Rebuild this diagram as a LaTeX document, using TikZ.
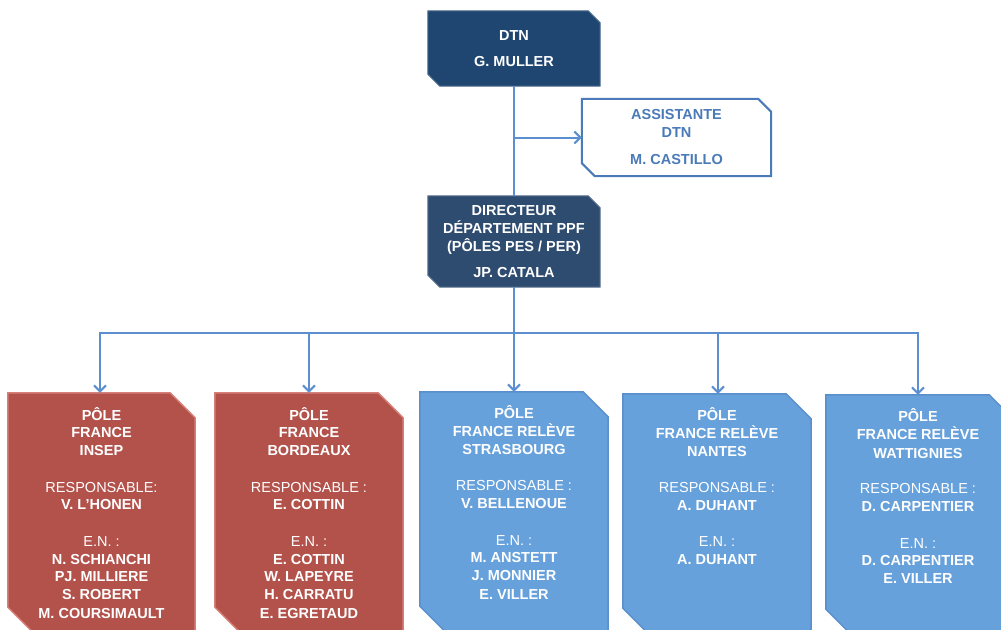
\documentclass[tikz,border=0pt]{standalone}
\usepackage{fontspec}
\setmainfont{Liberation Sans}
\usetikzlibrary{arrows.meta,backgrounds}
\definecolor{navy}{HTML}{1F4670}
\definecolor{slate}{HTML}{2E4C70}
\definecolor{connblue}{HTML}{5B8FD0}
\definecolor{asstblue}{HTML}{4A7AB8}
\definecolor{redfill}{HTML}{B3524B}
\definecolor{redline}{HTML}{D77E78}
\definecolor{bluefill}{HTML}{66A1DC}
\definecolor{blueline}{HTML}{5A8FCB}
\newcommand\snipbox[3]{%
  \path[#3] (#1.north west) -- ([xshift=-#2pt]#1.north east) -- ([yshift=-#2pt]#1.north east)
    -- (#1.south east) -- ([xshift=#2pt]#1.south west) -- ([yshift=#2pt]#1.south west) -- cycle;}
\tikzset{
  topbox/.style={rectangle, inner sep=0pt, align=center, text=white,
    font=\fontsize{14.5}{18}\selectfont\bfseries},
  pbox/.style={rectangle, inner sep=0pt, minimum height=239},
  ptext/.style={inner sep=0pt, align=center, text=white, anchor=north,
    font=\fontsize{14.5}{18}\selectfont\bfseries},
  conn/.style={draw=connblue, line width=2pt},
  arr/.style={-{Straight Barb[length=6pt,width=12pt,line width=2pt]}},
}
\begin{document}
\begin{tikzpicture}[x=1pt,y=-1pt]
\useasboundingbox (0,0) rectangle (1001,629);
% top boxes
\node[topbox, minimum width=172, minimum height=75] (dtn) at (514,48.5) {DTN\\[8pt]G. MULLER};
\node[topbox, text=asstblue, minimum width=189, minimum height=77] (asst) at (676.5,137.5) {ASSISTANTE\\DTN\\[9pt]M. CASTILLO};
\node[topbox, minimum width=172, minimum height=91] (dir) at (514,241.5) {DIRECTEUR\\DÉPARTEMENT PPF\\(PÔLES PES / PER)\\[8pt]JP. CATALA};
% bottom boxes
\node[pbox, minimum width=187] (p1) at (101.5,512.5) {};
\node[pbox, minimum width=188] (p2) at (309,512.5) {};
\node[pbox, minimum width=188] (p3) at (514,511.5) {};
\node[pbox, minimum width=188] (p4) at (717,513.5) {};
\node[pbox, minimum width=188] (p5) at (920,514.5) {};
\node[ptext] (t1) at ([yshift=-14pt]p1.north) {PÔLE\\FRANCE\\INSEP\\[18pt]{\mdseries RESPONSABLE:}\\V. L'HONEN\\[18pt]{\mdseries E.N. :}\\N. SCHIANCHI\\PJ. MILLIERE\\S. ROBERT\\M. COURSIMAULT};
\node[ptext] (t2) at ([yshift=-14pt]p2.north) {PÔLE\\FRANCE\\BORDEAUX\\[18pt]{\mdseries RESPONSABLE :}\\E. COTTIN\\[18pt]{\mdseries E.N. :}\\E. COTTIN\\W. LAPEYRE\\H. CARRATU\\E. EGRETAUD};
\node[ptext] (t3) at ([yshift=-14pt]p3.north) {PÔLE\\FRANCE RELÈVE\\STRASBOURG\\[18pt]{\mdseries RESPONSABLE :}\\V. BELLENOUE\\[18pt]{\mdseries E.N. :}\\M. ANSTETT\\J. MONNIER\\E. VILLER};
\node[ptext] (t4) at ([yshift=-14pt]p4.north) {PÔLE\\FRANCE RELÈVE\\NANTES\\[18pt]{\mdseries RESPONSABLE :}\\A. DUHANT\\[18pt]{\mdseries E.N. :}\\A. DUHANT};
\node[ptext] (t5) at ([xshift=-2pt,yshift=-14pt]p5.north) {PÔLE\\FRANCE RELÈVE\\WATTIGNIES\\[18pt]{\mdseries RESPONSABLE :}\\D. CARPENTIER\\[18pt]{\mdseries E.N. :}\\D. CARPENTIER\\E. VILLER};
% shapes
\begin{scope}[on background layer]
\snipbox{dtn}{12}{fill=navy, draw=navy!80!white, line width=1pt}
\snipbox{asst}{13}{fill=white, draw=asstblue, line width=2pt}
\snipbox{dir}{12}{fill=slate, draw=slate!80!white, line width=1pt}
\snipbox{p1}{25}{fill=redfill, draw=redline, line width=1.5pt}
\snipbox{p2}{25}{fill=redfill, draw=redline, line width=1.5pt}
\snipbox{p3}{25}{fill=bluefill, draw=blueline, line width=1.5pt}
\snipbox{p4}{25}{fill=bluefill, draw=blueline, line width=1.5pt}
\snipbox{p5}{25}{fill=bluefill, draw=blueline, line width=1.5pt}
\end{scope}
% connectors
\draw[conn] (dtn.south) -- (dir.north);
\coordinate (asstsrc) at (dtn.south |- asst.west);
\draw[conn, arr] (asstsrc) -- (asst.west);
\coordinate (bus) at (514,333);
\draw[conn, arr] (dir.south) -- (p3.north);
\draw[conn, arr] (bus) -| ([xshift=-1.5pt]p1.north);
\draw[conn, arr] (bus) -| (p2.north);
\draw[conn, arr] (bus) -| ([xshift=1pt]p4.north);
\draw[conn, arr] (bus) -| ([xshift=-2pt]p5.north);
\end{tikzpicture}
\end{document}
